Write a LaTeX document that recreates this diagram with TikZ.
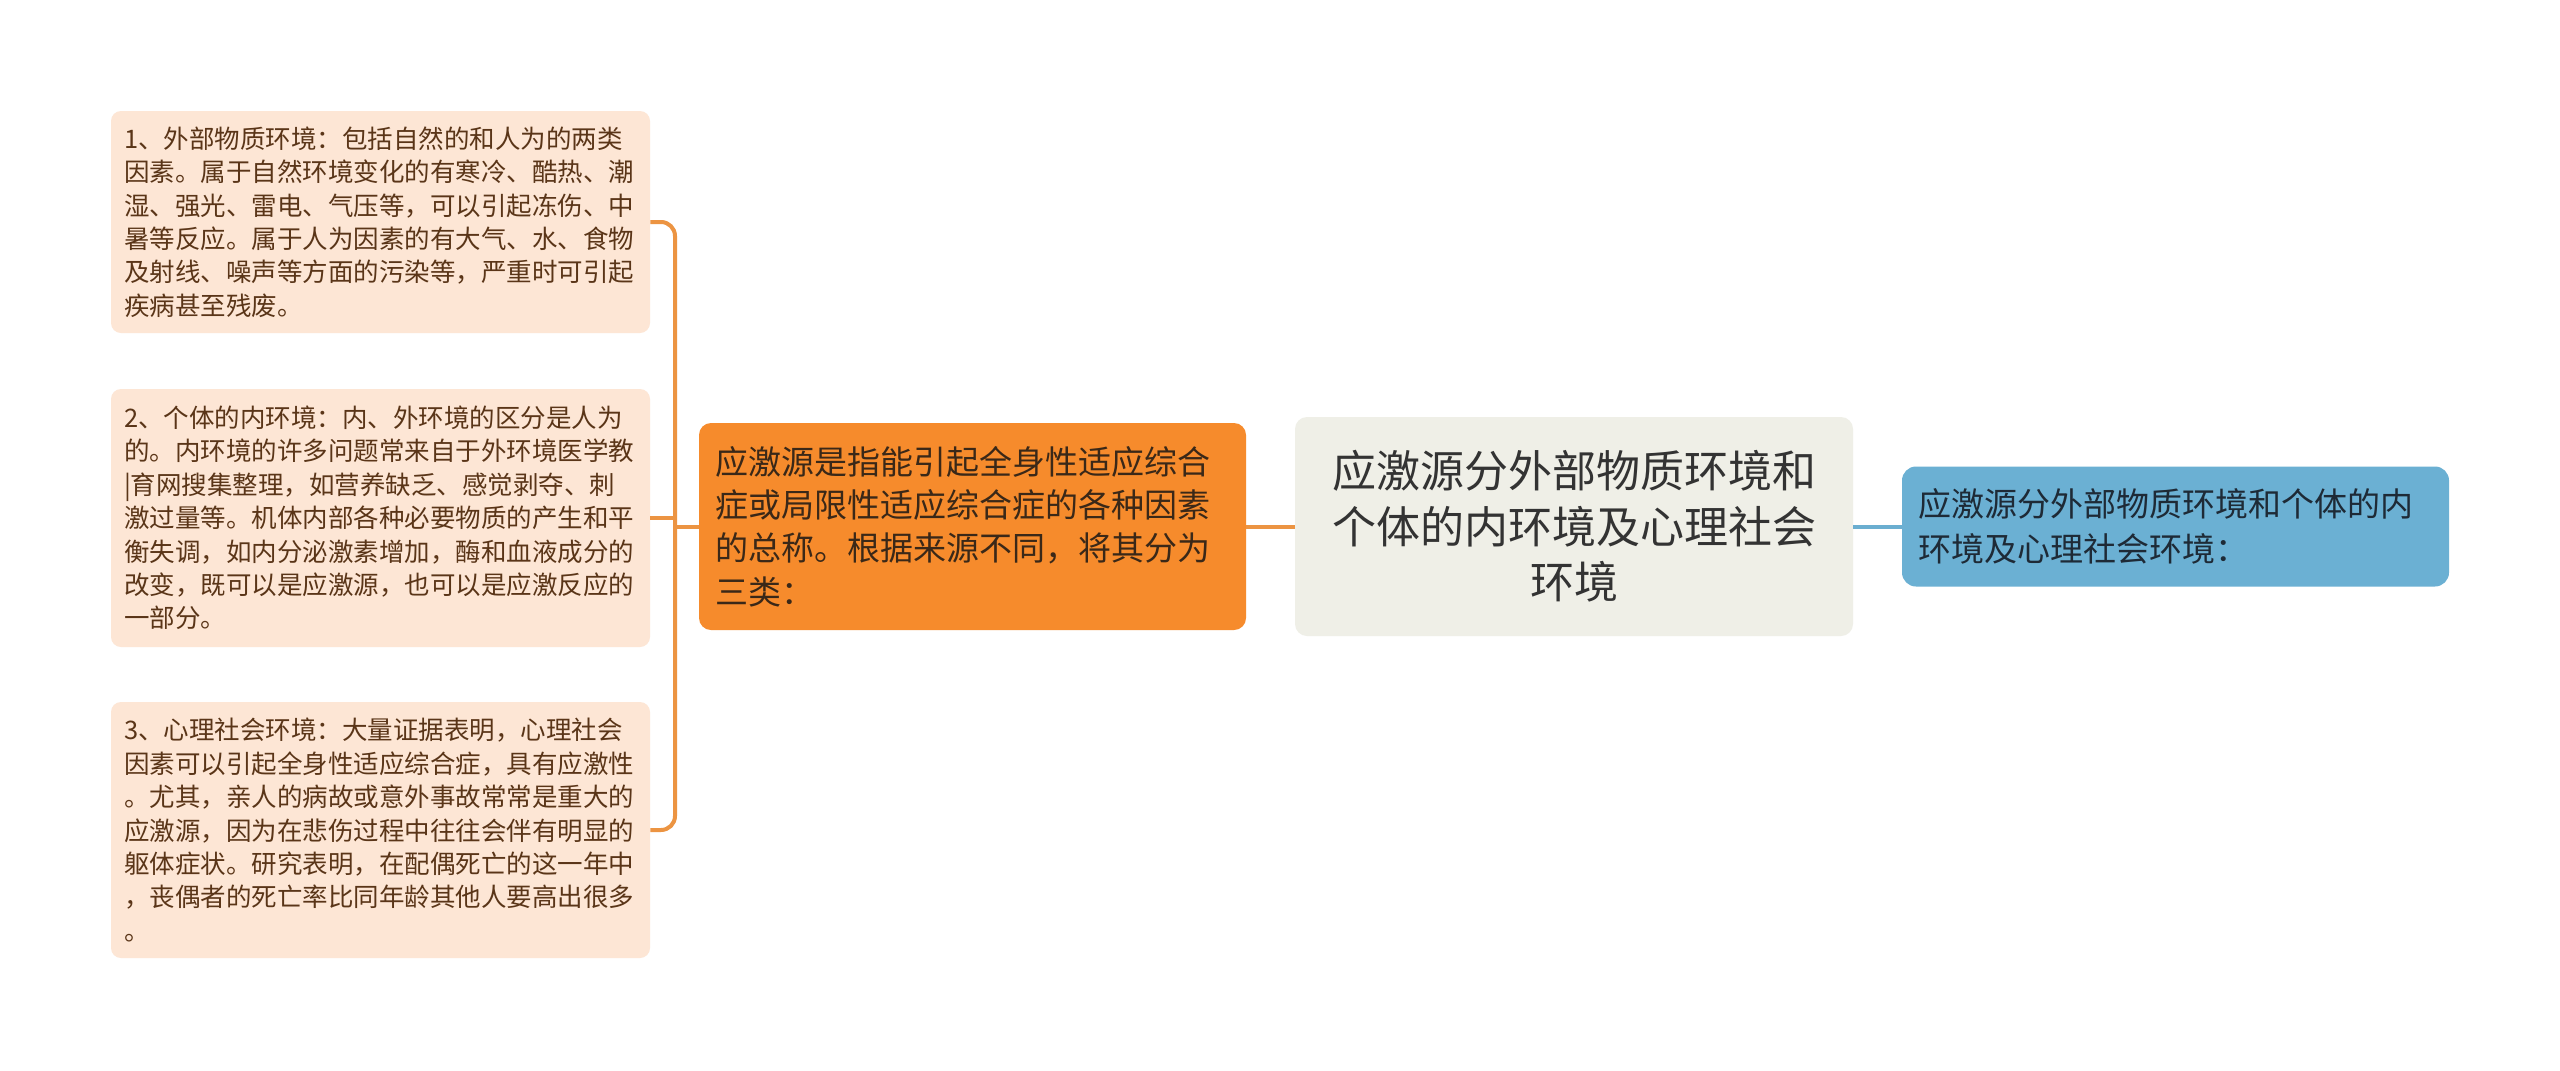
\documentclass[tikz,border=0pt]{standalone}
\usepackage{fontspec}
\setmainfont{Noto Sans CJK SC}
\newfontfamily\cjk{Noto Sans CJK SC}
\definecolor{leftfill}{HTML}{FDE6D5}
\definecolor{lefttext}{HTML}{5A3518}
\definecolor{orfill}{HTML}{F68B2C}
\definecolor{ortext}{HTML}{3A2818}
\definecolor{rootfill}{HTML}{EFEFE7}
\definecolor{roottext}{HTML}{333333}
\definecolor{bluefill}{HTML}{6BB0D3}
\definecolor{bluetext}{HTML}{1E2A36}
\definecolor{brkcol}{HTML}{EC9442}
\definecolor{bluecon}{HTML}{6BAED0}
\begin{document}
\begin{tikzpicture}[x=0.5pt,y=-0.5pt,
  leftbox/.style={rectangle, rounded corners=5pt, fill=leftfill, text=lefttext,
    minimum width=269.5pt, inner xsep=6.5pt, inner ysep=0pt,
    text width=256.5pt, align=left,
    font=\cjk\fontsize{12.75pt}{16.7pt}\selectfont},
  orbox/.style={rectangle, rounded corners=6pt, fill=orfill, text=ortext,
    minimum width=273.5pt, minimum height=103.5pt, inner xsep=8pt, inner ysep=0pt,
    text width=257.5pt, align=left,
    font=\cjk\fontsize{16.5pt}{21.7pt}\selectfont},
  rootbox/.style={rectangle, rounded corners=6pt, fill=rootfill, text=roottext,
    minimum width=279pt, minimum height=109.5pt, inner xsep=8pt, inner ysep=0pt,
    text width=263pt, align=center,
    font=\cjk\fontsize{22pt}{27.8pt}\selectfont},
  bluebox/.style={rectangle, rounded corners=7pt, fill=bluefill, text=bluetext,
    minimum width=273.5pt, minimum height=60pt, inner xsep=8pt, inner ysep=0pt,
    text width=257.5pt, align=left,
    font=\cjk\fontsize{16.5pt}{22.5pt}\selectfont},
  brk/.style={draw=brkcol, line width=2pt, rounded corners=7pt},
  bcon/.style={draw=bluecon, line width=2pt}
]
\fill[white] (0,0) rectangle (2560,1071);
\useasboundingbox (0,0) rectangle (2560,1071);

\node[leftbox, minimum height=111pt] (b1) at (380.5,222) {1、外部物质环境：包括自然的和人为的两类\\因素。属于自然环境变化的有寒冷、酷热、潮\\湿、强光、雷电、气压等，可以引起冻伤、中\\暑等反应。属于人为因素的有大气、水、食物\\及射线、噪声等方面的污染等，严重时可引起\\疾病甚至残废。};

\node[leftbox, minimum height=129pt] (b2) at (380.5,518) {2、个体的内环境：内、外环境的区分是人为\\的。内环境的许多问题常来自于外环境医学教\\|育网搜集整理，如营养缺乏、感觉剥夺、刺\\激过量等。机体内部各种必要物质的产生和平\\衡失调，如内分泌激素增加，酶和血液成分的\\改变，既可以是应激源，也可以是应激反应的\\一部分。};

\node[leftbox, minimum height=128pt] (b3) at (380.5,830) {3、心理社会环境：大量证据表明，心理社会\\因素可以引起全身性适应综合症，具有应激性\\。尤其，亲人的病故或意外事故常常是重大的\\应激源，因为在悲伤过程中往往会伴有明显的\\躯体症状。研究表明，在配偶死亡的这一年中\\，丧偶者的死亡率比同年龄其他人要高出很多\\。};

\node[orbox] (or) at (972.5,526.5) {应激源是指能引起全身性适应综合\\症或局限性适应综合症的各种因素\\的总称。根据来源不同，将其分为\\三类：};

\node[rootbox] (root) at (1574,526.5) {应激源分外部物质环境和\\个体的内环境及心理社会\\环境};

\node[bluebox] (bl) at (2175.5,526.5) {应激源分外部物质环境和个体的内\\环境及心理社会环境：};

\coordinate (bx) at (675,0);
\draw[brk] (b1.east) -| (b3.east -| bx) -- (b3.east);
\draw[brk] (b2.east) -- (b2.east -| bx);
\draw[brk] (or.west) -- (or.west -| bx);
\draw[brk] (or.east) -- (root.west);
\draw[bcon] (root.east) -- (bl.west);
\end{tikzpicture}
\end{document}
